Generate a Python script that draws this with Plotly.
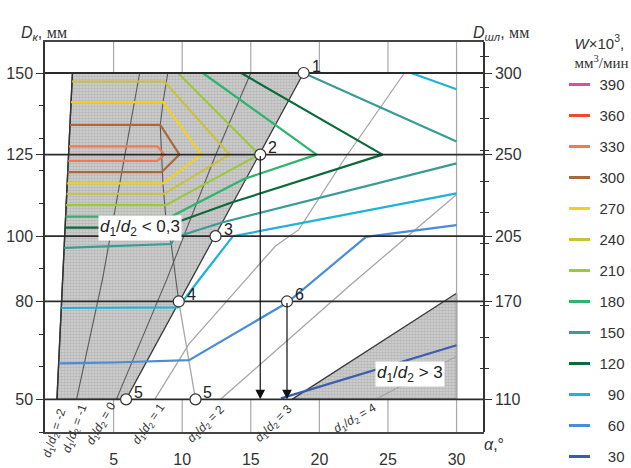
import plotly.graph_objects as go

# ---- axes -------------------------------------------------------------
alpha_ticks = [5, 10, 15, 20, 25, 30]
dk_levels = [50, 80, 100, 125, 150]
dshl_labels = ["110", "170", "205", "250", "300"]
dk_minor = [40, 50, 60, 70, 80, 90, 100, 110, 120, 130, 140, 150, 160]
dshl_minor = [50, 59.55, 69.1, 78.65, 88.2, 97.75, 107.3, 116.85, 126.4, 135.95, 145.5, 155.05]
x_range = [0, 32]
y_range = [40, 159.5]

# ---- legend -----------------------------------------------------------
w_values = [390, 360, 330, 300, 270, 240, 210, 180, 150, 120, 90, 60, 30]
w_colors = ["#d84fa0", "#ee4a2c", "#f27a52", "#a86a3c", "#f4d01e", "#c9c23c",
            "#9cc83e", "#2eb46c", "#3a9c94", "#0a6a3a", "#1eb2d6", "#4a8cd8", "#3c5cb0"]

# ---- productivity isolines W (x = alpha, y = Dk) -----------------------
w330_x = [1.75, 8.2, 8.7, 8.2, 1.70]
w330_y = [127.5, 127.5, 125, 123.1, 123.1]
w300_x = [1.82, 8.4, 9.8, 8.5, 1.66]
w300_y = [134.1, 134.1, 125, 119.6, 119.6]
w270_x = [1.90, 8.6, 11.4, 8.6, 1.62]
w270_y = [141.1, 141.1, 125, 116.2, 116.2]
w240_x = [1.97, 8.7, 13.45, 8.7, 1.58]
w240_y = [147.4, 147.4, 125, 113.0, 113.0]
w210_x = [9.7, 15.6, 8.8, 1.54]
w210_y = [150, 125, 109.5, 109.5]
w180_x = [11.5, 19.8, 14.5, 9.2, 1.50]
w180_y = [150, 125, 117.5, 106.0, 106.0]
w120_x = [14.3, 24.6, 13.6, 8.5, 1.46]
w120_y = [150, 125, 110.3, 102.6, 102.6]
w150_upper_x = [18.85, 30]
w150_upper_y = [150, 129]
w150_lower_x = [30, 21.5, 12.9, 9.45, 9.2, 1.40]
w150_lower_y = [122.3, 113.3, 104.2, 99.6, 97.6, 96.4]
w90_upper_x = [26.7, 30]
w90_upper_y = [150, 145]
w90_lower_x = [30, 13.7, 11.26, 9.7, 1.19]
w90_lower_y = [113.1, 100, 86.8, 78.2, 78.0]
w60_x = [1.06, 5.0, 10.5, 17.64, 23.4, 30]
w60_y = [61.0, 61.3, 62.0, 79.6, 99.8, 103.4]
w30_x = [17.2, 30]
w30_y = [50.3, 66.6]

# ---- d1/d2 lines -------------------------------------------------------
ratio_m2_x = [0.87, 2.0]
ratio_m2_y = [50, 150]
ratio_m1_x = [2.3, 4.2, 5.7, 6.9]
ratio_m1_y = [50, 87, 122, 150]
ratio_0_x = [5.2, 8.9, 12.4, 15.0]
ratio_0_y = [50, 87, 124.5, 150]
ratio_1_x = [8.0, 10.5, 14.7, 16.8, 18.5, 21.8, 26.2]
ratio_1_y = [50, 67, 87, 97, 102, 123.5, 150]
ratio_2_x = [12.8, 22.2, 30]
ratio_2_y = [50, 84.8, 112.8]
ratio_4_x = [24.1, 30]
ratio_4_y = [50, 63.2]
ratio_labels = ["-2", "-1", "0", "1", "2", "3", "4"]

# line of isoline breaks (from point 5 through point 4 upward)
bend_low_x = [10.97, 10.5, 9.75]
bend_low_y = [50, 62, 80]
bend_high_x = [9.75, 9.2, 8.8, 8.6, 8.5, 8.4, 8.6, 8.95]
bend_high_y = [80, 97.5, 106, 116, 125, 134, 141, 150]

# ---- zones --------------------------------------------------------------
zone_low_x = [2.0, 18.85, 5.91, 0.87]
zone_low_y = [150, 150, 50, 50]
zone_high_x = [18.0, 30, 30]
zone_high_y = [50, 82.5, 50]

# ---- marked points ------------------------------------------------------
pt_labels = ["1", "2", "3", "4", "5", "5", "6"]
pt_alpha = [18.85, 15.69, 12.43, 9.75, 5.91, 10.97, 17.64]
pt_dk = [150, 125, 100, 80, 50, 50, 80]

arrow_alpha = [15.69, 17.64]
arrow_from = [125, 80]
arrow_to = [50, 50]

FONT = "Liberation Sans, Arial, sans-serif"
SERIF = "Liberation Serif, Times New Roman, serif"

fig = go.Figure()


def add_line(x, y, color, width=2.0, yaxis="y"):
    fig.add_trace(go.Scatter(x=x, y=y, mode="lines", yaxis=yaxis,
                             line=dict(color=color, width=width),
                             hoverinfo="skip", showlegend=False))


# shaded zones
for zx, zy in [(zone_low_x, zone_low_y), (zone_high_x, zone_high_y)]:
    fig.add_trace(go.Scatter(
        x=zx + zx[:1], y=zy + zy[:1], mode="lines", fill="toself",
        fillcolor="rgba(0,0,0,0)",
        fillpattern=dict(shape=".", bgcolor="#d2d2d2", fgcolor="#9c9c9c",
                         size=3, solidity=0.55),
        line=dict(color="#3a3a3a", width=1.3),
        hoverinfo="skip", showlegend=False))

# grid pieces in the top/bottom strips and the alpha = 30 line
gx, gy = [], []
for v in alpha_ticks[:-1]:
    gx += [v, v, None, v, v, None]
    gy += [150, y_range[1], None, y_range[0], 50, None]
gx += [alpha_ticks[-1], alpha_ticks[-1]]
gy += [y_range[0], y_range[1]]
add_line(gx, gy, "#a8a8a8", 1.2)

# d1/d2 lines
for lx, ly in [(ratio_1_x, ratio_1_y), (ratio_2_x, ratio_2_y), (ratio_4_x, ratio_4_y),
               (bend_low_x, bend_low_y)]:
    add_line(lx, ly, "#a6a6a6", 1.3)
for lx, ly in [(ratio_m1_x, ratio_m1_y), (ratio_0_x, ratio_0_y), (bend_high_x, bend_high_y)]:
    add_line(lx, ly, "#5a5a5a", 1.1)
add_line(ratio_m2_x, ratio_m2_y, "#333333", 1.4)

# isolines
cmap = dict(zip(w_values, w_colors))
iso = [
    (w330_x, w330_y, 330), (w300_x, w300_y, 300), (w270_x, w270_y, 270),
    (w240_x, w240_y, 240), (w210_x, w210_y, 210), (w180_x, w180_y, 180),
    (w150_upper_x, w150_upper_y, 150), (w150_lower_x, w150_lower_y, 150),
    (w120_x, w120_y, 120), (w90_upper_x, w90_upper_y, 90),
    (w90_lower_x, w90_lower_y, 90), (w60_x, w60_y, 60), (w30_x, w30_y, 30),
]
for ix, iy, w in iso:
    add_line(ix, iy, cmap[w], 2.2)

# horizontal reference lines at the labelled diameters
hx, hy = [], []
for lv in dk_levels:
    hx += [x_range[0], x_range[1], None]
    hy += [lv, lv, None]
add_line(hx, hy, "#2b2b2b", 1.8)

# marked points
fig.add_trace(go.Scatter(
    x=pt_alpha, y=pt_dk, mode="markers",
    marker=dict(size=11, color="white", line=dict(color="#333", width=1.2)),
    cliponaxis=False, hoverinfo="skip", showlegend=False))

# legend entries
for w, c in zip(w_values, w_colors):
    name = str(w) if w >= 100 else "\u2007" + str(w)
    fig.add_trace(go.Scatter(
        x=[None], y=[None], mode="markers", name=name, yaxis="y2",
        legendgroup=str(w),
        marker=dict(symbol="line-ew", size=15, color=c, line=dict(color=c, width=3))))
fig.add_trace(go.Scatter(x=[None], y=[None], yaxis="y3", mode="lines",
                         showlegend=False, hoverinfo="skip"))

ann = []
for lab, px_, py_ in zip(pt_labels, pt_alpha, pt_dk):
    ann.append(dict(x=px_, y=py_, xref="x", yref="y", text=lab, showarrow=False,
                    xanchor="left", yanchor="middle", xshift=6, yshift=7,
                    font=dict(size=16, color="#222", family=FONT)))

for ax_, a0, a1 in zip(arrow_alpha, arrow_from, arrow_to):
    ann.append(dict(x=ax_, y=a1, ax=ax_, ay=a0, xref="x", yref="y", axref="x", ayref="y",
                    text="", showarrow=True, arrowhead=2, arrowsize=1.6,
                    arrowwidth=1.2, arrowcolor="#111"))

# rotated d1/d2 captions in the lower strip: (alpha, Dk, pixel drop, angle)
ratio_pos = [(0.72, 41, 4, -72), (2.2, 41, 0, -70), (4.1, 42.6, 0, -60), (7.62, 42.4, 0, -55),
             (11.8, 42.4, 0, -45), (16.7, 42.4, 0, -45), (22.6, 44.0, 0, -30)]
for lab, (rx, ry, drop, ang) in zip(ratio_labels, ratio_pos):
    ann.append(dict(x=rx, y=ry, xref="x", yref="y", showarrow=False, textangle=ang,
                    yshift=-drop,
                    text="<i>d</i><sub>1</sub>/<i>d</i><sub>2</sub> = " + lab,
                    font=dict(size=12, color="#333", family=FONT)))

ann.append(dict(x=6.9, y=102.5, xref="x", yref="y", showarrow=False,
                text="<i>d</i><sub>1</sub>/<i>d</i><sub>2</sub> &lt; 0,3",
                bgcolor="white", borderpad=1,
                font=dict(size=17, color="#222", family=FONT)))
ann.append(dict(x=26.6, y=57.8, xref="x", yref="y", showarrow=False,
                text="<i>d</i><sub>1</sub>/<i>d</i><sub>2</sub> &gt; 3",
                bgcolor="white", borderpad=1,
                font=dict(size=17, color="#222", family=FONT)))

ann.append(dict(x=-0.06, y=1.052, xref="paper", yref="paper", showarrow=False,
                text="<i>D</i><sub><i>к</i></sub>, <span style=\"font-family:" + SERIF +
                "\">мм</span>",
                font=dict(size=16, color="#333", family=FONT)))
ann.append(dict(x=1.108, y=1.052, xref="paper", yref="paper", showarrow=False,
                text="<i>D</i><sub><i>шл</i></sub>, <span style=\"font-family:" + SERIF +
                "\">мм</span>",
                font=dict(size=16, color="#333", family=FONT)))
ann.append(dict(x=1.05, y=-0.06, xref="paper", yref="paper", showarrow=False,
                text="<i>α</i>,°", font=dict(size=16, color="#333", family=FONT)))

fig.update_layout(
    width=631, height=468,
    margin=dict(l=45, r=147, t=42, b=36, autoexpand=False),
    plot_bgcolor="white", paper_bgcolor="white",
    font=dict(family=FONT, size=16, color="#333"),
    showlegend=True,
    legend=dict(
        x=1.172, y=1.033, xanchor="left", yanchor="top", maxheight=468,
        title=dict(text="<i>W</i>×10<sup>3</sup>,<br><span style=\"font-family:" + SERIF +
                   "\">мм<sup>3</sup>/мин</span>", font=dict(size=15, color="#333"),
                   side="top right"),
        font=dict(size=15, color="#333"), tracegroupgap=8.5,
        bgcolor="rgba(0,0,0,0)"),
    xaxis=dict(range=x_range, tickvals=alpha_ticks, ticks="", showgrid=False,
               zeroline=False, showline=True, linecolor="#444", linewidth=1.5,
               mirror=True, ticklabelstandoff=12, automargin=False),
    yaxis=dict(range=y_range, tickvals=dk_levels, ticks="outside", ticklen=7,
               tickcolor="#333", showgrid=False, zeroline=False, showline=True,
               linecolor="#333", linewidth=1.5, automargin=False,
               minor=dict(tickvals=dk_minor, ticks="outside", ticklen=4, tickcolor="#333")),
    yaxis2=dict(range=y_range, overlaying="y", side="right", anchor="free", position=1,
                tickvals=dk_levels, ticktext=dshl_labels, ticks="outside", ticklen=7,
                tickcolor="#333", showgrid=False, zeroline=False, showline=True,
                linecolor="#333", linewidth=1.5, automargin=False,
                minor=dict(tickvals=dshl_minor, ticks="outside", ticklen=4, tickcolor="#333")),
    yaxis3=dict(range=y_range, overlaying="y", side="right", anchor="free", position=1,
                tickvals=[], showticklabels=False, showgrid=False, zeroline=False,
                showline=False, automargin=False,
                minor=dict(tickvals=dshl_minor, ticks="inside", ticklen=4, tickcolor="#333")),
    annotations=ann,
)

fig.write_html("out.html")
